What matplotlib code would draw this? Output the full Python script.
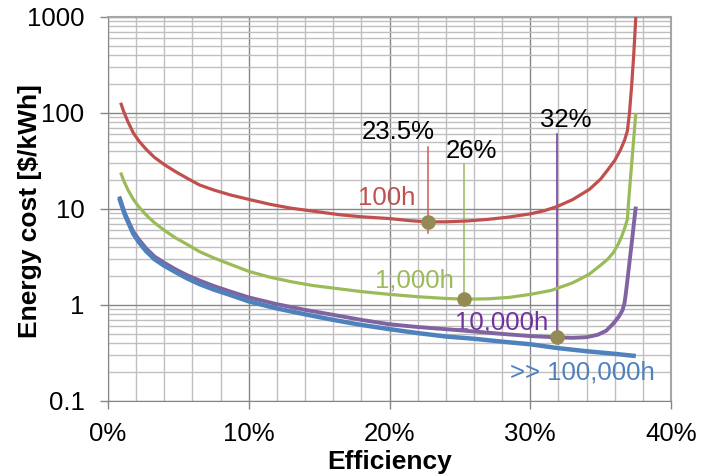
import matplotlib
matplotlib.use("Agg")
import matplotlib.pyplot as plt
from matplotlib.ticker import FixedLocator, FuncFormatter, NullFormatter

plt.rcParams['font.family'] = ['Liberation Sans', 'DejaVu Sans']

# curves: efficiency [%] vs energy cost [$/kWh]
x_100h = [0.9, 1.1, 1.4, 1.8, 2.2, 2.7, 3.3, 4.0, 4.8, 5.6, 6.5, 7.5, 8.7, 10, 11.5,
          13, 14.8, 16.5, 18, 20, 21.5, 22.7, 24, 25.5, 27, 28.5, 30, 31, 31.9, 33,
          34.2, 35.0, 35.5, 36.0, 36.4, 36.7, 36.9, 37.05, 37.2, 37.35, 37.5]
y_100h = [128, 105, 82, 62, 51, 42, 34.5, 29, 24.5, 21, 17.8, 15.8, 14.0, 12.6, 11.2,
          10.2, 9.4, 8.7, 8.3, 7.95, 7.55, 7.35, 7.35, 7.5, 7.8, 8.25, 8.9, 9.6, 10.6,
          12.5, 16, 20.5, 25.5, 32, 41, 52, 65, 100, 190, 400, 1000]

x_1000h = [0.9, 1.1, 1.4, 1.8, 2.2, 2.7, 3.3, 4.0, 4.8, 5.6, 6.5, 7.5, 8.7, 10, 11.5,
           13, 14.5, 16, 18, 20, 22, 24, 25.4, 27, 28.5, 30, 31.5, 33, 33.5, 34.2,
           35, 35.5, 35.9, 36.25, 36.5, 36.75, 36.9, 37.0, 37.5]
y_1000h = [24, 20, 16, 12.6, 10.5, 8.7, 7.2, 6.0, 5.0, 4.3, 3.6, 3.1, 2.65, 2.24, 1.95,
           1.75, 1.6, 1.5, 1.38, 1.29, 1.22, 1.17, 1.15, 1.16, 1.2, 1.29, 1.42, 1.7,
           1.85, 2.1, 2.6, 3.0, 3.5, 4.3, 5.2, 6.6, 7.8, 12.6, 100]

x_10000h = [0.8, 1.0, 1.2, 1.5, 1.8, 2.2, 2.7, 3.3, 4.0, 4.8, 5.6, 6.5, 7.5, 8.7, 10,
            12, 14, 16, 18, 20, 22, 24, 26, 28, 30, 31.9, 33, 34, 34.8, 35.4, 35.9,
            36.3, 36.55, 36.7, 36.8, 37.0, 37.25, 37.5]
y_10000h = [13.5, 11, 9.0, 7.2, 5.8, 4.8, 3.9, 3.2, 2.75, 2.35, 2.05, 1.8, 1.58, 1.38,
            1.2, 1.02, 0.89, 0.79, 0.70, 0.63, 0.59, 0.56, 0.53, 0.5, 0.475, 0.46,
            0.455, 0.462, 0.49, 0.54, 0.64, 0.76, 0.88, 1.05, 1.35, 2.4, 5.0, 10.6]

x_inf = [0.8, 1.0, 1.2, 1.5, 1.8, 2.2, 2.7, 3.3, 4.0, 4.8, 5.6, 6.5, 7.5, 8.7, 10,
         12, 14, 16, 18, 20, 22, 24, 26, 28, 30, 32, 34, 36, 37.5]
y_inf = [13, 10.6, 8.7, 6.9, 5.5, 4.5, 3.65, 3.0, 2.56, 2.2, 1.9, 1.65, 1.45, 1.27,
         1.09, 0.92, 0.8, 0.7, 0.62, 0.56, 0.51, 0.47, 0.445, 0.415, 0.39, 0.355,
         0.33, 0.31, 0.294]

# optimum points and their callouts
opt_x = [22.7, 25.3, 31.9]
opt_y = [7.3, 1.15, 0.46]
opt_top = [44, 29.4, 60]
opt_labels = ['23.5%', '26%', '32%']
opt_label_x = [20.6, 25.8, 32.5]
opt_label_y = [63, 40, 84]

RED = '#C0504D'
GREEN = '#9BBB59'
PURPLE = '#8064A2'
BLUE = '#4F81BD'
OLIVE = '#948A54'
FS = 18.5

fig = plt.figure(figsize=(7.12, 4.76), dpi=100)
ax = fig.add_axes([108 / 712, 1 - 401 / 476, 563 / 712, 384 / 476])

# callout lines first so the curves sit above them
line_cols = ['#D05A5A', '#9BBB59', '#7030A0']
for i in range(3):
    ax.plot([opt_x[i], opt_x[i]], [opt_y[i] * (0.77 if i == 0 else 1), opt_top[i]],
            color=line_cols[i], lw=1.1, zorder=3)
    ax.text(opt_label_x[i], opt_label_y[i], opt_labels[i], fontsize=FS,
            ha='center', va='center', color='black', zorder=6)

kw = dict(solid_joinstyle='round', solid_capstyle='butt', zorder=4)
ax.plot(x_100h, y_100h, color=RED, lw=2.3, **kw)
ax.plot(x_1000h, y_1000h, color=GREEN, lw=2.3, **kw)
ax.plot(x_10000h, y_10000h, color=PURPLE, lw=2.8, **kw)
ax.plot(x_inf, y_inf, color=BLUE, lw=3.2, **kw)
ax.plot(opt_x, opt_y, 'o', color=OLIVE, ms=9.5, zorder=5)

ax.text(19.8, 13, '100h', color=RED, fontsize=FS, ha='center', va='center')
ax.text(21.8, 1.82, '1,000h', color=GREEN, fontsize=FS, ha='center', va='center')
ax.text(28.0, 0.665, '10,000h', color='#7030A0', fontsize=FS, ha='center', va='center')
ax.text(33.7, 0.196, '>> 100,000h', color=BLUE, fontsize=FS, ha='center', va='center')

ax.set_yscale('log')
ax.set_xlim(0, 40)
ax.set_ylim(0.1, 1000)

ax.xaxis.set_major_locator(FixedLocator([0, 10, 20, 30, 40]))
ax.xaxis.set_minor_locator(FixedLocator([v for v in range(0, 41, 2) if v % 10]))
ax.xaxis.set_major_formatter(FuncFormatter(lambda v, p: '%d%%' % round(v)))
ax.yaxis.set_major_locator(FixedLocator([0.1, 1, 10, 100, 1000]))
ax.yaxis.set_minor_locator(FixedLocator([m * 10.0 ** e for e in range(-1, 3) for m in range(2, 10)]))
ax.yaxis.set_major_formatter(FuncFormatter(lambda v, p: ('%g' % v)))
ax.yaxis.set_minor_formatter(NullFormatter())

ax.grid(which='major', color='#868686', lw=1.0, zorder=1)
ax.grid(which='minor', color='#BFBFBF', lw=1.0, zorder=1)
ax.set_axisbelow(True)

ax.tick_params(which='major', direction='out', length=6, width=1, color='#868686',
               labelsize=FS)
ax.tick_params(axis='x', which='major', pad=9)
ax.tick_params(axis='y', which='major', pad=11)
ax.tick_params(which='minor', length=0)
for s in ['left', 'bottom']:
    ax.spines[s].set_color('#868686')
for s in ['top', 'right']:
    ax.spines[s].set_color('#A6A6A6')
    ax.spines[s].set_linewidth(1.5)

ax.set_xlabel('Efficiency', fontsize=19, fontweight='bold', labelpad=3)
ax.set_ylabel('Energy cost [$/kWh]', fontsize=19, fontweight='bold')
ax.yaxis.set_label_coords(-0.117, 0.495)

fig.savefig('out.png', dpi=100)
